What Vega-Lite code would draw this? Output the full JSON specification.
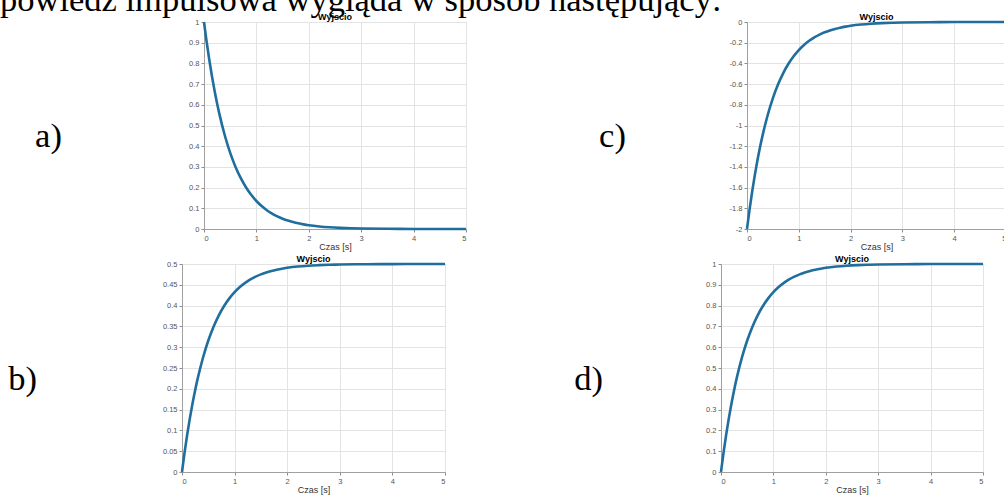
{
  "$schema": "https://vega.github.io/schema/vega-lite/v6.json",
  "background": "white",
  "padding": {"left": 0, "top": -18, "right": 0, "bottom": 0},
  "title": {"text": "powiedź impulsowa wygląda w sposób następujący:", "anchor": "start", "frame": "group", "offset": -33, "baseline": "alphabetic", "font": "Liberation Serif", "fontSize": 34.5, "fontWeight": "normal", "color": "black"},
  "datasets": {
    "resp": [
      {"t": 0, "a": 1, "b": 0, "c": -2, "d": 0},
      {"t": 0.05, "a": 0.9048, "b": 0.0476, "c": -1.8097, "d": 0.0952},
      {"t": 0.1, "a": 0.8187, "b": 0.0906, "c": -1.6375, "d": 0.1813},
      {"t": 0.15, "a": 0.7408, "b": 0.1296, "c": -1.4816, "d": 0.2592},
      {"t": 0.2, "a": 0.6703, "b": 0.1648, "c": -1.3406, "d": 0.3297},
      {"t": 0.25, "a": 0.6065, "b": 0.1967, "c": -1.2131, "d": 0.3935},
      {"t": 0.3, "a": 0.5488, "b": 0.2256, "c": -1.0976, "d": 0.4512},
      {"t": 0.4, "a": 0.4493, "b": 0.2753, "c": -0.8987, "d": 0.5507},
      {"t": 0.5, "a": 0.3679, "b": 0.3161, "c": -0.7358, "d": 0.6321},
      {"t": 0.6, "a": 0.3012, "b": 0.3494, "c": -0.6024, "d": 0.6988},
      {"t": 0.7, "a": 0.2466, "b": 0.3767, "c": -0.4932, "d": 0.7534},
      {"t": 0.8, "a": 0.2019, "b": 0.3991, "c": -0.4038, "d": 0.7981},
      {"t": 0.9, "a": 0.1653, "b": 0.4174, "c": -0.3306, "d": 0.8347},
      {"t": 1.0, "a": 0.1353, "b": 0.4323, "c": -0.2707, "d": 0.8647},
      {"t": 1.1, "a": 0.1108, "b": 0.4446, "c": -0.2216, "d": 0.8892},
      {"t": 1.2, "a": 0.0907, "b": 0.4546, "c": -0.1814, "d": 0.9093},
      {"t": 1.3, "a": 0.0743, "b": 0.4629, "c": -0.1485, "d": 0.9257},
      {"t": 1.4, "a": 0.0608, "b": 0.4696, "c": -0.1216, "d": 0.9392},
      {"t": 1.5, "a": 0.0498, "b": 0.4751, "c": -0.0996, "d": 0.9502},
      {"t": 1.6, "a": 0.0408, "b": 0.4796, "c": -0.0815, "d": 0.9592},
      {"t": 1.7, "a": 0.0334, "b": 0.4833, "c": -0.0667, "d": 0.9666},
      {"t": 1.8, "a": 0.0273, "b": 0.4863, "c": -0.0546, "d": 0.9727},
      {"t": 1.9, "a": 0.0224, "b": 0.4888, "c": -0.0447, "d": 0.9776},
      {"t": 2.0, "a": 0.0183, "b": 0.4908, "c": -0.0366, "d": 0.9817},
      {"t": 2.2, "a": 0.0123, "b": 0.4939, "c": -0.0246, "d": 0.9877},
      {"t": 2.4, "a": 0.0082, "b": 0.4959, "c": -0.0165, "d": 0.9918},
      {"t": 2.6, "a": 0.0055, "b": 0.4972, "c": -0.011, "d": 0.9945},
      {"t": 2.8, "a": 0.0037, "b": 0.4982, "c": -0.0074, "d": 0.9963},
      {"t": 3.0, "a": 0.0025, "b": 0.4988, "c": -0.005, "d": 0.9975},
      {"t": 3.5, "a": 0.0009, "b": 0.4995, "c": -0.0018, "d": 0.9991},
      {"t": 4.0, "a": 0.0003, "b": 0.4998, "c": -0.0007, "d": 0.9997},
      {"t": 4.5, "a": 0.0001, "b": 0.4999, "c": -0.0002, "d": 0.9999},
      {"t": 5.0, "a": 0, "b": 0.5, "c": 0, "d": 1}
    ]
  },
  "data": {"name": "resp"},
  "spacing": 2,
  "vconcat": [
    {
      "bounds": "flush",
      "spacing": 0,
      "hconcat": [
        {"width": 204, "height": 1, "view": {"fill": "transparent", "stroke": null}, "data": {"values": []}, "mark": "point", "encoding": {}},
        {
          "width": 262, "height": 207,
          "view": {"stroke": "#b4b4b4", "strokeWidth": 1},
          "title": {"text": "Wyjscio", "font": "Liberation Sans", "fontSize": 9, "fontWeight": "bold", "color": "black", "offset": -12, "baseline": "alphabetic"},
          "mark": {"type": "line", "color": "#1f6e9e", "strokeWidth": 2.6, "interpolate": "monotone"},
          "encoding": {
            "x": {"field": "t", "type": "quantitative", "scale": {"domain": [0, 5], "nice": false, "zero": false}, "axis": {"values": [0, 1, 2, 3, 4, 5], "title": "Czas [s]"}},
            "y": {"field": "a", "type": "quantitative", "scale": {"domain": [0, 1], "nice": false}, "axis": {"values": [0, 0.1, 0.2, 0.3, 0.4, 0.5, 0.6, 0.7, 0.8, 0.9, 1], "title": "a)", "titleAngle": 0, "titleAlign": "center", "titleBaseline": "middle", "titleX": -156, "titleY": 114, "titleFont": "Liberation Serif", "titleFontSize": 34.5, "titleColor": "black"}}
          }
        },
        {"width": 281, "height": 1, "view": {"fill": "transparent", "stroke": null}, "data": {"values": []}, "mark": "point", "encoding": {}},
        {
          "width": 259, "height": 207,
          "view": {"stroke": "#b4b4b4", "strokeWidth": 1},
          "title": {"text": "Wyjscio", "font": "Liberation Sans", "fontSize": 9, "fontWeight": "bold", "color": "black", "offset": -12, "baseline": "alphabetic"},
          "mark": {"type": "line", "color": "#1f6e9e", "strokeWidth": 2.6, "interpolate": "monotone"},
          "encoding": {
            "x": {"field": "t", "type": "quantitative", "scale": {"domain": [0, 5], "nice": false, "zero": false}, "axis": {"values": [0, 1, 2, 3, 4, 5], "title": "Czas [s]"}},
            "y": {"field": "c", "type": "quantitative", "scale": {"domain": [-2, 0], "nice": false}, "axis": {"values": [-2, -1.8, -1.6, -1.4, -1.2, -1, -0.8, -0.6, -0.4, -0.2, 0], "title": "c)", "titleAngle": 0, "titleAlign": "center", "titleBaseline": "middle", "titleX": -135, "titleY": 114, "titleFont": "Liberation Serif", "titleFontSize": 34.5, "titleColor": "black"}}
          }
        }
      ]
    },
    {
      "bounds": "flush",
      "spacing": 0,
      "hconcat": [
        {"width": 182, "height": 1, "view": {"fill": "transparent", "stroke": null}, "data": {"values": []}, "mark": "point", "encoding": {}},
        {
          "width": 263, "height": 208,
          "view": {"stroke": "#b4b4b4", "strokeWidth": 1},
          "title": {"text": "Wyjscio", "font": "Liberation Sans", "fontSize": 9, "fontWeight": "bold", "color": "black", "offset": -12, "baseline": "alphabetic"},
          "mark": {"type": "line", "color": "#1f6e9e", "strokeWidth": 2.6, "interpolate": "monotone"},
          "encoding": {
            "x": {"field": "t", "type": "quantitative", "scale": {"domain": [0, 5], "nice": false, "zero": false}, "axis": {"values": [0, 1, 2, 3, 4, 5], "title": "Czas [s]"}},
            "y": {"field": "b", "type": "quantitative", "scale": {"domain": [0, 0.5], "nice": false}, "axis": {"values": [0, 0.05, 0.1, 0.15, 0.2, 0.25, 0.3, 0.35, 0.4, 0.45, 0.5], "title": "b)", "titleAngle": 0, "titleAlign": "center", "titleBaseline": "middle", "titleX": -160, "titleY": 115, "titleFont": "Liberation Serif", "titleFontSize": 34.5, "titleColor": "black"}}
          }
        },
        {"width": 276, "height": 1, "view": {"fill": "transparent", "stroke": null}, "data": {"values": []}, "mark": "point", "encoding": {}},
        {
          "width": 262, "height": 208,
          "view": {"stroke": "#b4b4b4", "strokeWidth": 1},
          "title": {"text": "Wyjscio", "font": "Liberation Sans", "fontSize": 9, "fontWeight": "bold", "color": "black", "offset": -12, "baseline": "alphabetic"},
          "mark": {"type": "line", "color": "#1f6e9e", "strokeWidth": 2.6, "interpolate": "monotone"},
          "encoding": {
            "x": {"field": "t", "type": "quantitative", "scale": {"domain": [0, 5], "nice": false, "zero": false}, "axis": {"values": [0, 1, 2, 3, 4, 5], "title": "Czas [s]"}},
            "y": {"field": "d", "type": "quantitative", "scale": {"domain": [0, 1], "nice": false}, "axis": {"values": [0, 0.1, 0.2, 0.3, 0.4, 0.5, 0.6, 0.7, 0.8, 0.9, 1], "title": "d)", "titleAngle": 0, "titleAlign": "center", "titleBaseline": "middle", "titleX": -133, "titleY": 115, "titleFont": "Liberation Serif", "titleFontSize": 34.5, "titleColor": "black"}}
          }
        }
      ]
    }
  ],
  "config": {
    "view": {"stroke": null},
    "axis": {
      "format": "~g",
      "labelExpr": "replace(datum.label, '−', '-')",
      "labelFont": "Liberation Sans",
      "labelFontSize": 7.5,
      "labelColor": "#555555",
      "tickColor": "#8c8c8c",
      "tickSize": 3,
      "labelPadding": 2,
      "domainColor": "#a0a0a0",
      "gridColor": "#e3e3e3",
      "grid": true,
      "titleFont": "Liberation Sans",
      "titleFontSize": 9,
      "titleFontWeight": "normal",
      "titleColor": "#333333",
      "titlePadding": 1
    }
  }
}
